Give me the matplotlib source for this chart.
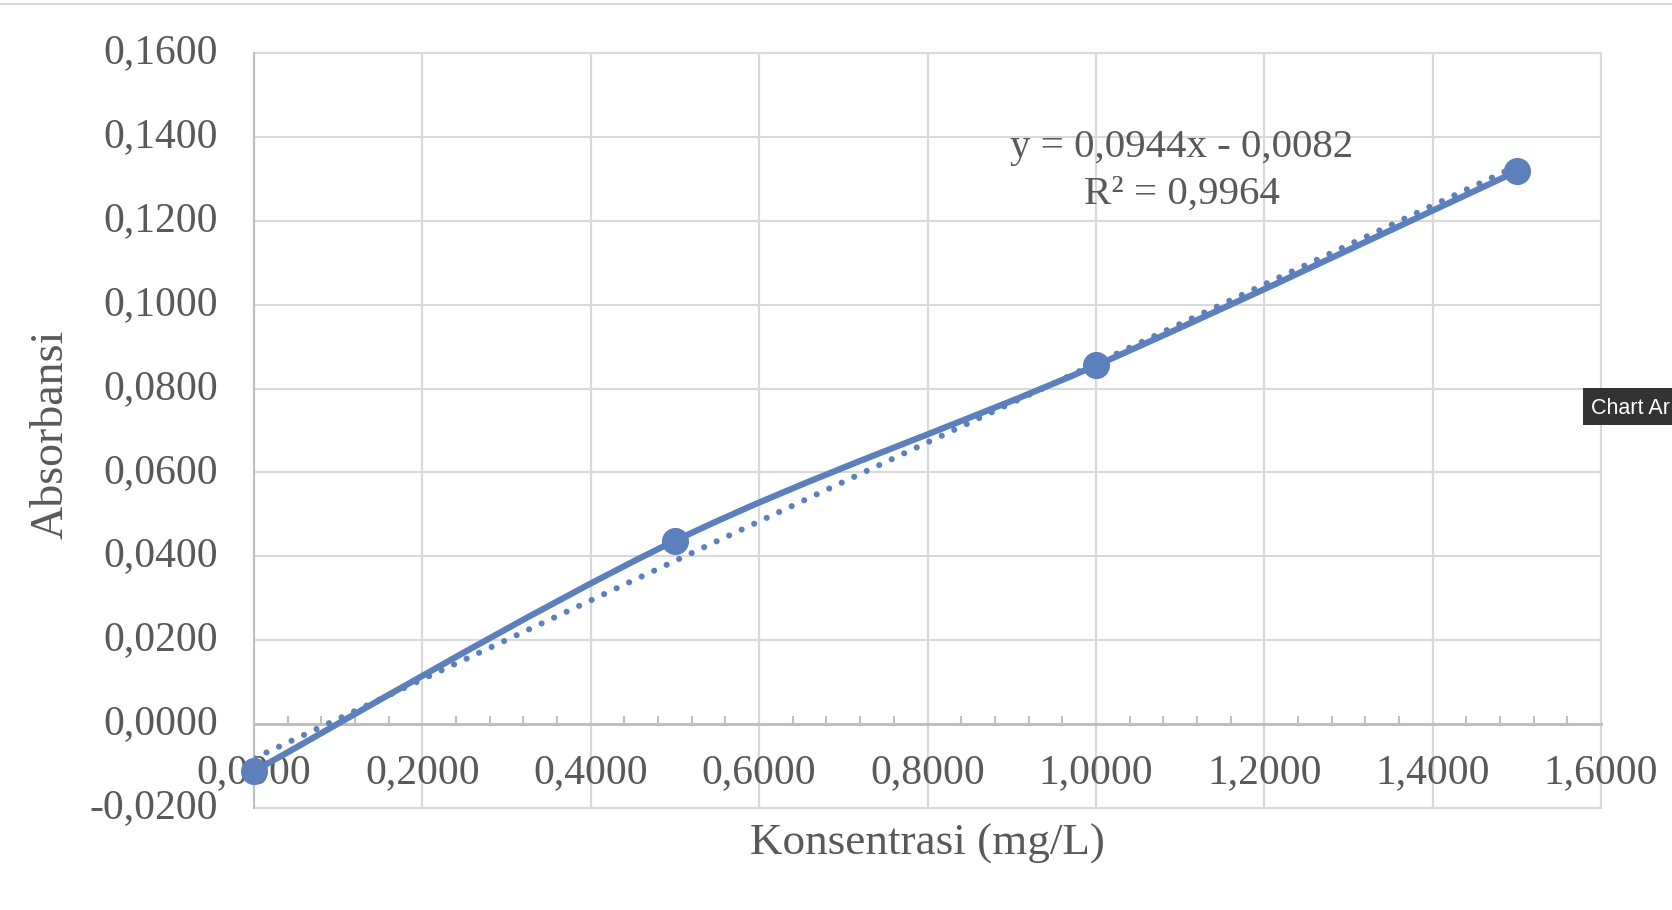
import numpy as np
import matplotlib
matplotlib.use('Agg')
from matplotlib import pyplot as plt
from matplotlib.path import Path
from matplotlib.patches import PathPatch, Rectangle
from matplotlib.lines import Line2D
from matplotlib.ticker import MultipleLocator, FuncFormatter

# data
konsentrasi = [0.0, 0.5, 1.0, 1.5]
absorbansi = [-0.0112, 0.0437, 0.0855, 0.1318]

x_ticks = [0.0, 0.2, 0.4, 0.6, 0.8, 1.0, 1.2, 1.4, 1.6]
y_ticks = [-0.02, 0.0, 0.02, 0.04, 0.06, 0.08, 0.10, 0.12, 0.14, 0.16]

equation_text = 'y = 0,0944x - 0,0082'
r2_text = 'R² = 0,9964'

blue = '#5b80bc'
text_grey = '#595959'
grid_grey = '#d9d9d9'
axis_grey = '#bfbfbf'

plt.rcParams['font.family'] = ['Liberation Serif', 'DejaVu Serif']

fig = plt.figure(figsize=(16.72, 9.10), dpi=100)
ax = fig.add_axes([254 / 1672, 1 - 808 / 910, 1347 / 1672, 755 / 910])

ax.set_xlim(x_ticks[0], x_ticks[-1])
ax.set_ylim(y_ticks[0], y_ticks[-1])
ax.set_xticks(x_ticks)
ax.set_yticks(y_ticks)
ax.xaxis.set_minor_locator(MultipleLocator(0.04))

fmt = FuncFormatter(lambda v, pos: f'{v:.4f}'.replace('.', ','))
ax.xaxis.set_major_formatter(fmt)
ax.yaxis.set_major_formatter(fmt)

# gridlines
ax.grid(True, which='major', color=grid_grey, linewidth=1.5, zorder=0)
ax.set_axisbelow(True)
for v in x_ticks:
    ax.axvline(v, color=grid_grey, linewidth=1.5, clip_on=False, zorder=0)
for v in (y_ticks[0], y_ticks[-1]):
    ax.axhline(v, color=grid_grey, linewidth=1.5, clip_on=False, zorder=0)

# axis lines: x axis crosses at y = 0
for side in ('top', 'right'):
    ax.spines[side].set_visible(False)
ax.spines['bottom'].set_position(('data', 0))
ax.spines['bottom'].set_color(axis_grey)
ax.spines['bottom'].set_linewidth(2.2)
ax.spines['left'].set_color(axis_grey)
ax.spines['left'].set_linewidth(1.5)

ax.tick_params(axis='x', which='major', length=0, pad=21.5, labelsize=30, labelcolor=text_grey)
ax.tick_params(axis='x', which='minor', direction='in', length=5.8, width=1.5, color=axis_grey)
ax.tick_params(axis='y', which='major', length=0, pad=26, labelsize=30, labelcolor=text_grey)
for lbl in ax.get_yticklabels():
    lbl.set_verticalalignment('center')

# smoothed series line (Excel-style cubic bezier through the points)
pts = np.column_stack([konsentrasi, absorbansi])
n = len(pts)
verts = [tuple(pts[0])]
codes = [Path.MOVETO]
for i in range(n - 1):
    p_prev = pts[max(i - 1, 0)]
    p0 = pts[i]
    p1 = pts[i + 1]
    p_next = pts[min(i + 2, n - 1)]
    c1 = p0 + (p1 - p_prev) / 6
    c2 = p1 - (p_next - p0) / 6
    verts += [tuple(c1), tuple(c2), tuple(p1)]
    codes += [Path.CURVE4, Path.CURVE4, Path.CURVE4]
curve = PathPatch(Path(verts, codes), facecolor='none', edgecolor=blue,
                  linewidth=4.5, capstyle='round', joinstyle='round', zorder=3)
ax.add_patch(curve)

ax.plot(konsentrasi, absorbansi, linestyle='none', marker='o', markersize=18.5,
        color=blue, zorder=4, clip_on=False)

# linear trendline (dotted)
slope, intercept = np.polyfit(konsentrasi, absorbansi, 1)
tx = np.array([konsentrasi[0], konsentrasi[-1]])
ax.plot(tx, slope * tx + intercept, color=blue, linewidth=4.4,
        linestyle=(0, (0.01, 2.25)), dash_capstyle='round', zorder=3)

ax.text(1.102, 0.1352, equation_text, ha='center', va='baseline',
        fontsize=29.5, color=text_grey, zorder=5)
ax.text(1.102, 0.1242, r2_text, ha='center', va='baseline',
        fontsize=29.5, color=text_grey, zorder=5)

# axis titles
fig.text(927 / 1672, 1 - 855 / 910, 'Konsentrasi (mg/L)', ha='center', va='baseline',
         fontsize=32.5, color=text_grey)
fig.text(51 / 1672, 1 - 434 / 910, 'Absorbansi', ha='center', va='center',
         rotation=90, fontsize=33, color=text_grey)

# thin line at the very top of the screenshot
fig.add_artist(Line2D([0, 1], [1 - 4 / 910, 1 - 4 / 910], transform=fig.transFigure,
                      color=grid_grey, linewidth=1.5))

# tooltip visible at the right edge
fig.add_artist(Rectangle((1583 / 1672, 1 - 425 / 910), 0.1, 37 / 910,
                         transform=fig.transFigure, facecolor='#333333',
                         edgecolor='none', zorder=10))
fig.text(1591 / 1672, 1 - 414 / 910, 'Chart Ar', ha='left', va='baseline',
         fontsize=15.5, color='white', family=['Liberation Sans', 'DejaVu Sans'], zorder=11)

fig.savefig('out.png', dpi=100, facecolor='white')
